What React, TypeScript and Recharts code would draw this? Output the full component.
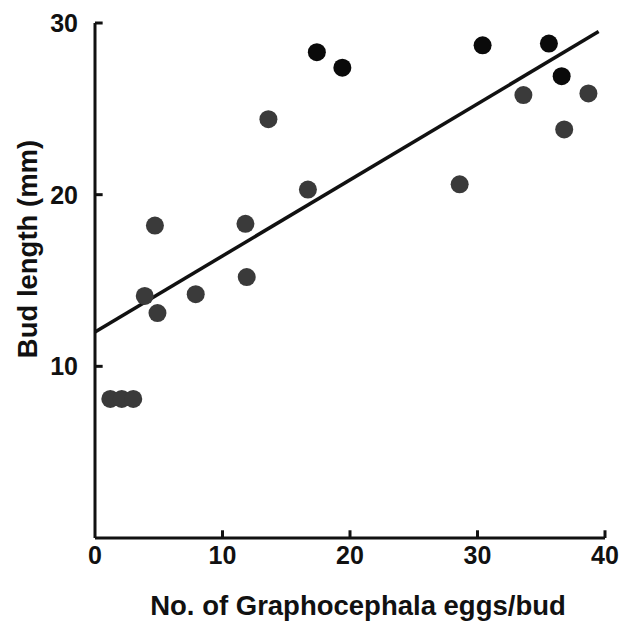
import {
  ScatterChart,
  Scatter,
  XAxis,
  YAxis,
  ReferenceLine,
  Label,
} from 'recharts'

// eggs per bud (x) and bud length in mm (y)
const darkEggs = [17.4, 19.4, 30.4, 35.6, 36.6]
const darkLength = [28.3, 27.4, 28.7, 28.8, 26.9]

const greyEggs = [1.2, 2.1, 3.0, 3.9, 4.7, 4.9, 7.9, 11.8, 11.9, 13.6, 16.7, 28.6, 33.6, 36.8, 38.7]
const greyLength = [8.1, 8.1, 8.1, 14.1, 18.2, 13.1, 14.2, 18.3, 15.2, 24.4, 20.3, 20.6, 25.8, 23.8, 25.9]

// fitted line end points
const fitEggs = [0, 39.5]
const fitLength = [12, 29.5]

const xTicks = [0, 10, 20, 30, 40]
const yTicks = [10, 20, 30]

const zip = (xs: number[], ys: number[]) => xs.map((x, i) => ({ x, y: ys[i] }))

const darkData = zip(darkEggs, darkLength)
const greyData = zip(greyEggs, greyLength)
const fitData = zip(fitEggs, fitLength)

const ink = '#111111'
const font = '"Liberation Sans", Arial, sans-serif'
const tickStyle = { fontSize: 25, fontWeight: 700, fill: ink, fontFamily: font }
const titleStyle = { fontSize: 27.5, fontWeight: 700, fill: ink, fontFamily: font }

const dot = (fill: string) => (p: any) => <circle cx={p.cx} cy={p.cy} r={9} fill={fill} />

export default function App() {
  return (
    <div style={{ position: 'absolute', left: 0, top: 0, background: '#fff' }}>
      <ScatterChart width={623} height={626} margin={{ top: 23, right: 18, bottom: 0, left: 0 }}>
        <XAxis
          type="number"
          dataKey="x"
          domain={[0, 40]}
          ticks={xTicks}
          height={88}
          tickLine={false}
          tickSize={0}
          tickMargin={8}
          tick={tickStyle}
          axisLine={{ stroke: ink, strokeWidth: 3 }}
        >
          <Label
            value="No. of Graphocephala eggs/bud"
            position="insideBottom"
            offset={11}
            dx={8}
            style={titleStyle}
          />
        </XAxis>
        <YAxis
          type="number"
          dataKey="y"
          domain={[0, 30]}
          ticks={yTicks}
          width={95}
          tickLine={false}
          tickSize={0}
          tickMargin={17}
          tick={tickStyle}
          axisLine={{ stroke: ink, strokeWidth: 3 }}
        >
          <Label
            content={() => (
              <text
                x={27}
                y={249}
                transform="rotate(-90, 27, 249)"
                textAnchor="middle"
                dominantBaseline="central"
                style={titleStyle}
              >
                Bud length (mm)
              </text>
            )}
          />
        </YAxis>

        {xTicks.slice(1).map((t) => (
          <ReferenceLine
            key={'xt' + t}
            segment={[{ x: t, y: 0 }, { x: t, y: 0.45 }]}
            stroke={ink}
            strokeWidth={3}
          />
        ))}
        {yTicks.map((t) => (
          <ReferenceLine
            key={'yt' + t}
            segment={[{ x: 0, y: t }, { x: 0.6, y: t }]}
            stroke={ink}
            strokeWidth={3}
          />
        ))}

        <Scatter
          data={fitData}
          line={{ stroke: ink, strokeWidth: 3.5 }}
          shape={() => null}
          isAnimationActive={false}
        />
        <Scatter data={greyData} shape={dot('#3a3a3a')} isAnimationActive={false} />
        <Scatter data={darkData} shape={dot('#0a0a0a')} isAnimationActive={false} />
      </ScatterChart>
    </div>
  )
}
